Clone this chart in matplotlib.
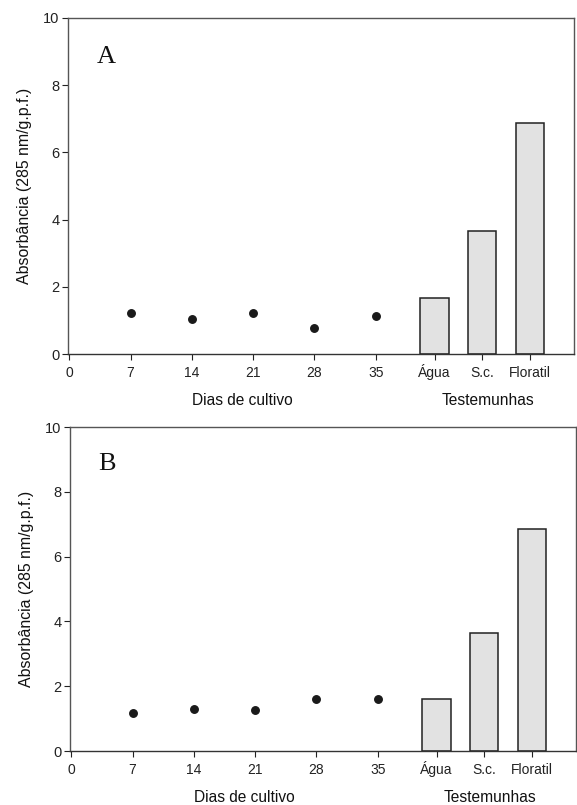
import matplotlib
matplotlib.use('Agg')
import matplotlib.pyplot as plt

plt.rcParams['font.family'] = ['Liberation Sans', 'DejaVu Sans']

dias = [7, 14, 21, 28, 35]
controles = ['Água', 'S.c.', 'Floratil']
controle_x = [41.7, 47.1, 52.6]

pontos_a = [1.21, 1.03, 1.21, 0.76, 1.12]
barras_a = [1.68, 3.67, 6.88]
pontos_b = [1.18, 1.31, 1.27, 1.6, 1.6]
barras_b = [1.6, 3.64, 6.84]

xticks = [0] + dias + controle_x
xticklabels = ['0'] + [str(d) for d in dias] + controles

fig = plt.figure(figsize=(5.77, 8.05), dpi=100)
W, H = 577, 805


def painel(rect, letra, pontos, barras):
	l, t, r, b = rect
	ax = fig.add_axes([l / W, 1 - b / H, (r - l) / W, (b - t) / H])
	ax.bar(controle_x, barras, width=3.25, color='#e2e2e2',
		edgecolor='#222222', linewidth=1.1, zorder=2)
	ax.plot(dias, pontos, 'o', color='#1a1a1a', markersize=5.4, zorder=3)
	ax.set_xlim(-0.1, 57.6)
	ax.set_ylim(0, 10)
	ax.set_yticks([0, 2, 4, 6, 8, 10])
	ax.set_xticks(xticks)
	ax.set_xticklabels(xticklabels, va='baseline')
	ax.tick_params(direction='out', length=4.5, width=0.8,
		colors='#222222')
	# baseline of the day labels sits ~23 px under the axis
	ax.tick_params(axis='x', labelsize=10, pad=12)
	ax.tick_params(axis='y', labelsize=10.5, pad=2)
	ax.spines['left'].set_color('#555555')
	ax.spines['bottom'].set_color('#333333')
	for s in ['left', 'bottom']:
		ax.spines[s].set_linewidth(1.0)
	for s in ['top', 'right']:
		ax.spines[s].set_color('#555555')
		ax.spines[s].set_linewidth(1.0)
	ax.set_ylabel('Absorbância (285 nm/g.p.f.)', fontsize=11.4,
		color='#111111', labelpad=8)
	ax.text(0.056, 0.885, letra, transform=ax.transAxes, fontsize=19,
		family=['Liberation Serif', 'DejaVu Serif'], va='center', ha='left',
		color='#111111')
	for x, txt in [(19.8, 'Dias de cultivo'), (47.8, 'Testemunhas')]:
		ax.annotate(txt, xy=(x, 0), xycoords=('data', 'axes fraction'),
			xytext=(0, -28), textcoords='offset points', ha='center',
			va='top', fontsize=11.2, color='#111111')
	return ax


painel((68.3, 18, 573.8, 354), 'A', pontos_a, barras_a)
painel((70.3, 427, 575.8, 751), 'B', pontos_b, barras_b)

fig.savefig('out.png', dpi=100)
